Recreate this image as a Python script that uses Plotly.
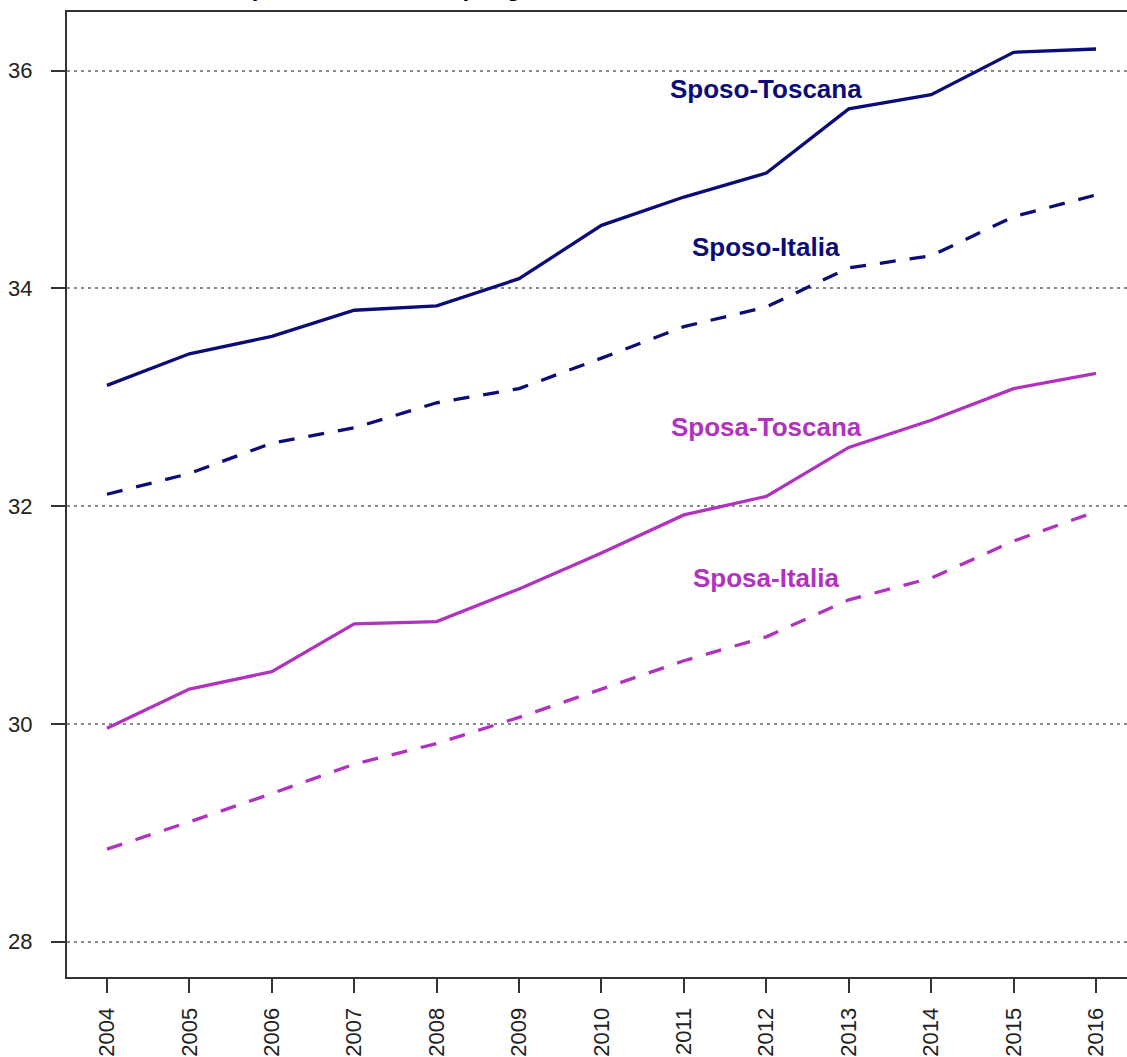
import plotly.graph_objects as go

years = [2004, 2005, 2006, 2007, 2008, 2009, 2010, 2011, 2012, 2013, 2014, 2015, 2016]
sposo_toscana = [33.11, 33.40, 33.56, 33.80, 33.84, 34.09, 34.58, 34.84, 35.06, 35.65, 35.78, 36.17, 36.20]
sposo_italia = [32.11, 32.30, 32.58, 32.72, 32.95, 33.08, 33.36, 33.65, 33.83, 34.19, 34.30, 34.66, 34.86]
sposa_toscana = [29.96, 30.32, 30.48, 30.92, 30.94, 31.24, 31.57, 31.92, 32.09, 32.54, 32.79, 33.08, 33.22]
sposa_italia = [28.85, 29.10, 29.36, 29.63, 29.82, 30.06, 30.32, 30.58, 30.80, 31.14, 31.34, 31.68, 31.95]

series_names = ["Sposo-Toscana", "Sposo-Italia", "Sposa-Toscana", "Sposa-Italia"]
label_x = [2012, 2012, 2012, 2012]
label_y = [35.83, 34.38, 32.73, 31.34]
y_ticks = [28, 30, 32, 34, 36]
x_tick_labels = [str(y) for y in years]
title_text = "Età media al primo matrimonio per genere. Toscana e Italia, anni 2004-2016"

NAVY = "#0c0c78"
PINK = "#b032bf"
colors = [NAVY, NAVY, PINK, PINK]
dashes = ["solid", "16px,14px", "solid", "16px,14px"]
values = [sposo_toscana, sposo_italia, sposa_toscana, sposa_italia]

fig = go.Figure()
for name, vals, col, dash in zip(series_names, values, colors, dashes):
    fig.add_trace(go.Scatter(x=years, y=vals, mode="lines", name=name,
                             line=dict(color=col, width=3.3, dash=dash),
                             showlegend=False, hoverinfo="skip"))

for name, lx, ly, col in zip(series_names, label_x, label_y, colors):
    fig.add_annotation(x=lx, y=ly, text="<b>" + name + "</b>", showarrow=False,
                       font=dict(family="Liberation Sans, Arial", size=26, color=col),
                       xanchor="center", yanchor="middle")

W, H = 1127, 1057
ml, mr, mt, mb = 67, 0, 12, 76
fig.add_annotation(xref="paper", yref="paper", x=(962 - ml) / (W - ml - mr), y=1 + (mt + 13) / (H - mt - mb),
                   text="<b>" + title_text + "</b>", showarrow=False,
                   xanchor="right", yanchor="middle",
                   font=dict(family="Liberation Sans, Arial", size=24, color="#000000"))

fig.update_layout(
    width=W, height=H,
    margin=dict(l=ml, r=mr, t=mt, b=mb, pad=0),
    paper_bgcolor="white", plot_bgcolor="white",
    font=dict(family="Liberation Sans, Arial", size=21, color="#222222"),
    xaxis=dict(range=[2003.515, 2016.376], tickmode="array", tickvals=years, ticktext=x_tick_labels,
               tickangle=-90, ticks="outside", ticklen=14, tickwidth=2, tickcolor="#333333",
               showline=True, linewidth=2, linecolor="#333333", mirror=True,
               showgrid=False, zeroline=False, ticklabelstandoff=6,
               tickfont=dict(size=22, color="#222222")),
    yaxis=dict(range=[27.675, 36.540], tickmode="array", tickvals=y_ticks,
               ticks="outside", ticklen=14, tickwidth=2, tickcolor="#333333",
               showline=True, linewidth=2, linecolor="#333333",
               showgrid=True, gridcolor="#8a8a8a", gridwidth=1.5, griddash="3px,4px",
               zeroline=False, ticklabelstandoff=14,
               tickfont=dict(size=22, color="#222222")),
)

fig.write_html("out.html", config={"displayModeBar": False},
               post_script="document.body.style.margin='0';document.body.style.overflow='hidden';")
